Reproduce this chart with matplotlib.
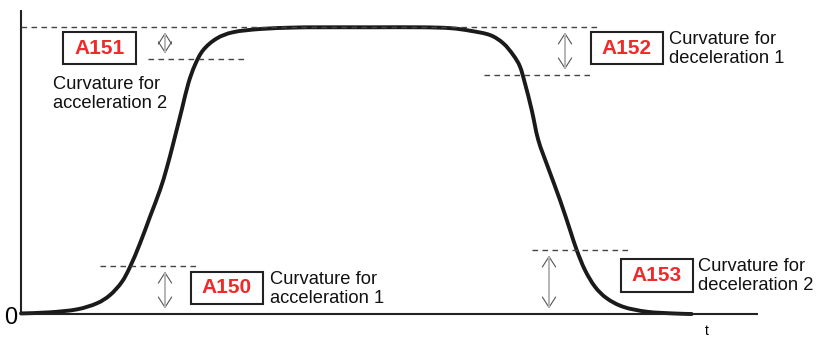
import matplotlib.pyplot as plt
from matplotlib.patches import Rectangle, PathPatch
from matplotlib.path import Path

plt.rcParams['font.family'] = ['Liberation Sans', 'DejaVu Sans']

# speed profile: time (arbitrary units) vs speed (% of max)
curve_t = [0, 29, 55.7, 75.7, 89, 100.7, 109, 119, 129, 139, 145.7, 152.3,
           160.7, 167.3, 174, 182.3, 195.7, 212.3, 239, 272.3, 299, 350, 400,
           429, 449, 469, 482.3, 492.3, 499, 504, 510.7, 517.3, 527.3, 539,
           549, 555.7, 564, 574, 585.7, 602.3, 625.7, 652.3, 670.7]
curve_v = [0.2, 0.6, 1.6, 3.7, 6.6, 11.1, 16.4, 24.6, 33.9, 43.2, 50.8, 59.5,
           71.1, 80.3, 86.8, 92.0, 96.0, 98.2, 99.3, 99.8, 99.9, 99.9, 99.9,
           99.6, 98.7, 97.2, 94.3, 90.2, 86.2, 80.3, 71.1, 60.6, 50.8, 39.7,
           29.3, 22.3, 15.3, 9.5, 5.5, 2.5, 0.8, 0.2, 0.0]

# curvature parameters
params = ['A150', 'A151', 'A152', 'A153']
captions = ['Curvature for\nacceleration 1', 'Curvature for\nacceleration 2',
            'Curvature for\ndeceleration 1', 'Curvature for\ndeceleration 2']
span_lo = [0, 88.9, 83.3, 0]
span_hi = [16.7, 100, 100, 22.3]


def smooth_path(xs, ys):
    # cubic bezier through the points (catmull-rom tangents)
    pts = list(zip(xs, ys))
    verts = [pts[0]]
    codes = [Path.MOVETO]
    n = len(pts)
    for i in range(n - 1):
        p0 = pts[max(i - 1, 0)]
        p1 = pts[i]
        p2 = pts[i + 1]
        p3 = pts[min(i + 2, n - 1)]
        c1 = (p1[0] + (p2[0] - p0[0]) / 6, p1[1] + (p2[1] - p0[1]) / 6)
        c2 = (p2[0] - (p3[0] - p1[0]) / 6, p2[1] - (p3[1] - p1[1]) / 6)
        verts += [c1, c2, p2]
        codes += [Path.CURVE4] * 3
    return Path(verts, codes)


fig = plt.figure(figsize=(8.17, 3.37), dpi=100)
ax = fig.add_axes([0, 0, 1, 1])
ax.set_xlim(-21, 796)
ax.set_ylim(-8.01, 109.41)
ax.axis('off')

# axes
ax.plot([0, 0], [0, 105.9], color='#222222', lw=1.5, solid_capstyle='butt')
ax.plot([0, 737], [0, 0], color='#222222', lw=1.5, solid_capstyle='butt')
ax.text(-10, -1.4, '0', fontsize=17, ha='center', va='center')
ax.text(686, -3.6, 't', fontsize=10, ha='center', va='top')

dash = dict(color='#444444', lw=1.0, linestyles=(0, (4.0, 3.2)))
ax.hlines(100.1, 0, 577, **dash)
dash_x = {'A150': (79, 176), 'A151': (127, 226), 'A152': (463, 572), 'A153': (511, 609)}
arrow_t = {'A150': 144, 'A151': 144, 'A152': 544, 'A153': 528}
box_pos = {'A150': (170, 3.5, 72, 11.15), 'A151': (42, 87.1, 73, 11.15),
           'A152': (570, 87.1, 72, 11.15), 'A153': (600, 7.7, 72, 11.5)}
cap_pos = {'A150': (249, 8.7), 'A151': (32, 76.5),
           'A152': (648, 92.3), 'A153': (677, 13.4)}

for name, cap, lo, hi in zip(params, captions, span_lo, span_hi):
    level = hi if lo == 0 else lo
    ax.hlines(level, *dash_x[name], **dash)
    t = arrow_t[name]
    ax.annotate('', xy=(t, lo), xytext=(t, hi),
                arrowprops=dict(arrowstyle='<->,head_length=7.5,head_width=4.8',
                                mutation_scale=1, color='#555555', lw=0.8,
                                shrinkA=4, shrinkB=4))
    ax.annotate('', xy=(t, lo), xytext=(t, hi),
                arrowprops=dict(arrowstyle='-', color='#b8b8b8', lw=1.4,
                                shrinkA=5, shrinkB=5))
    x0, y0, w, h = box_pos[name]
    ax.add_patch(Rectangle((x0, y0), w, h, fill=False, ec='#222222', lw=1.5))
    ax.text(x0 + w / 2, y0 + h / 2, name, color='#ee2a2a', fontsize=15,
            fontweight='bold', ha='center', va='center')
    cx, cy = cap_pos[name]
    ax.text(cx, cy, cap, fontsize=13.2, ha='left', va='center',
            linespacing=1.15, color='#111111')

ax.add_patch(PathPatch(smooth_path(curve_t, curve_v), fill=False,
                       ec='#1a1a1a', lw=2.8, joinstyle='round', capstyle='round'))

fig.savefig('out.png', dpi=100)
